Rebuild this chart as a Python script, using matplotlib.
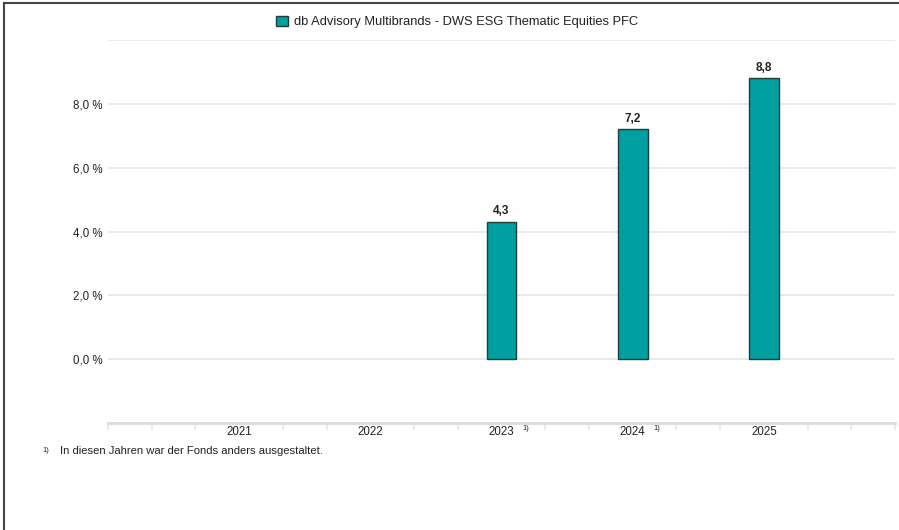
import matplotlib.pyplot as plt
from matplotlib.lines import Line2D
import numpy as np

plt.rcParams['font.family'] = ['Liberation Sans', 'DejaVu Sans']

years = ['2021', '2022', '2023', '2024', '2025']
values = [None, None, 4.3, 7.2, 8.8]
notes = ['', '', '1)', '1)', '']
series = 'db Advisory Multibrands - DWS ESG Thematic Equities PFC'
yticks = [0, 2, 4, 6, 8]

fig = plt.figure(figsize=(8.99, 5.3), dpi=100)
ax = fig.add_axes([108/899, 1-423/530, (895-108)/899, (423-40)/530])

x = np.arange(len(years))
for i, v in enumerate(values):
    if v is None:
        continue
    ax.bar(x[i], v, width=30/131.5, color='#009fa0', edgecolor='#1f3d3d', linewidth=1, zorder=3,
           label=series if i == 2 else None)
    ax.text(x[i], v + 0.15, ('%.1f' % v).replace('.', ','), ha='center', va='bottom',
            fontsize=8.5, color='#222222', fontweight='semibold')

ax.set_xlim(-1, 5)
ax.set_ylim(-2, 10)

for y in yticks + [10]:
    ax.axhline(y, color='#e8e8e8', linewidth=1.3, zorder=1)
ax.set_yticks(yticks)
ax.set_yticklabels([('%.1f %%' % t).replace('.', ',') for t in yticks], fontsize=8.3, color='#222222')
ax.tick_params(axis='y', length=0, pad=4)

# minor ticks at thirds, skipping label positions
minor = [k/3 for k in range(-3, 16) if k % 3 != 0 or k in (-3, 15)]
ax.set_xticks(minor, minor=True)
ax.set_xticks(x)
ax.set_xticklabels(years, fontsize=8.3, color='#222222')
ax.tick_params(axis='x', which='major', length=0, pad=2)
ax.tick_params(axis='x', which='minor', length=5, color='#e6e6e6', width=1.2)

for i, n in enumerate(notes):
    if n:
        ax.annotate(n, xy=(x[i], -2), xytext=(15, -4), textcoords='offset points',
                    fontsize=5.5, color='#222222', ha='left', va='center')

for s in ['top', 'right', 'left']:
    ax.spines[s].set_visible(False)
ax.spines['bottom'].set_color('#dcdcdc')
ax.spines['bottom'].set_linewidth(2)

leg = ax.legend(loc='center', bbox_to_anchor=(457/899, 1-22/530), bbox_transform=fig.transFigure,
                frameon=False, fontsize=9.3, handlelength=0.9, handleheight=0.9, handletextpad=0.5)
for t in leg.get_texts():
    t.set_color('#222222')

fig.text(42/899, 1-451/530, '1)', fontsize=5.5, color='#222222', va='center')
fig.text(60/899, 1-451/530, 'In diesen Jahren war der Fonds anders ausgestaltet.', fontsize=8.1,
         color='#222222', va='center')

# outer frame lines
fig.add_artist(Line2D([4/899, 4/899], [0, 1-3/530], color='#444444', linewidth=1.5, transform=fig.transFigure))
fig.add_artist(Line2D([4/899, 1], [1-3/530, 1-3/530], color='#444444', linewidth=1.5, transform=fig.transFigure))

fig.savefig('out.png', dpi=100)
